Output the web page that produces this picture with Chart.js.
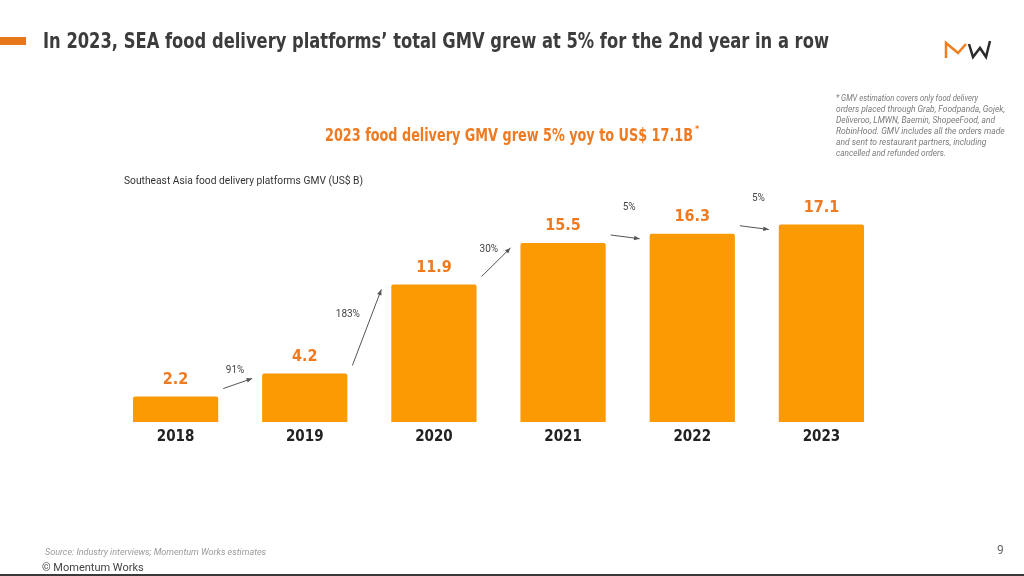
<!DOCTYPE html>
<html>
<head>
<meta charset="utf-8">
<script src="https://cdn.jsdelivr.net/npm/chart.js@4"></script>
<style>
  html, body { margin: 0; padding: 0; background: #fff; }
  #wrap { position: relative; width: 1024px; height: 576px; }
</style>
</head>
<body>
<div id="wrap"><canvas id="chart" width="1024" height="576"></canvas></div>
<script>
// data
var years = ['2018', '2019', '2020', '2021', '2022', '2023'];
var gmv = [2.2, 4.2, 11.9, 15.5, 16.3, 17.1];
var growthLabels = ['91%', '183%', '30%', '5%', '5%'];

var footnoteLines = [
  '* GMV estimation covers only food delivery',
  'orders placed through Grab, Foodpanda, Gojek,',
  'Deliveroo, LMWN, Baemin, ShopeeFood, and',
  'RobinHood. GMV includes all the orders made',
  'and sent to restaurant partners, including',
  'cancelled and refunded orders.'
];

var BAR = '#fb9a03';
var LABEL_ORANGE = '#ee7a22';
var NARROW = "'Liberation Sans Narrow', 'DejaVu Sans Condensed', Roboto, sans-serif";

/**
 * Slide decoration: title, logo, notes, footer.
 * Drawn behind the chart so bars stay on top.
 */
var slidePlugin = {
  id: 'slide',
  beforeDraw: function(chart){
    var ctx = chart.ctx;
    ctx.save();
    ctx.fillStyle = '#fff';
    ctx.fillRect(0, 0, chart.width, chart.height);

    // orange tab + title
    ctx.fillStyle = '#e8761b';
    ctx.fillRect(0, 37, 26, 8);
    ctx.fillStyle = '#3c3c3c';
    ctx.font = 'bold 22px ' + NARROW;
    ctx.textBaseline = 'alphabetic';
    ctx.textAlign = 'left';
    ctx.fillText('In 2023, SEA food delivery platforms\u2019 total GMV grew at 5% for the 2nd year in a row', 43, 48, 786);

    // MW logo
    ctx.lineWidth = 2.5;
    ctx.lineJoin = 'miter';
    ctx.strokeStyle = '#f07d1e';
    ctx.beginPath();
    ctx.moveTo(946, 58); ctx.lineTo(946, 43); ctx.lineTo(958, 53); ctx.lineTo(966, 44);
    ctx.stroke();
    ctx.strokeStyle = '#2b2b2b';
    ctx.beginPath();
    ctx.moveTo(969, 44); ctx.lineTo(973, 57); ctx.lineTo(980, 48); ctx.lineTo(986, 57); ctx.lineTo(990, 41);
    ctx.stroke();

    // subtitle
    ctx.fillStyle = LABEL_ORANGE;
    ctx.font = 'bold 18px ' + NARROW;
    ctx.textAlign = 'center';
    ctx.fillText('2023 food delivery GMV grew 5% yoy to US$ 17.1B', 509, 141, 368);
    ctx.font = 'bold 9px ' + NARROW;
    ctx.textAlign = 'left';
    ctx.fillText('*', 695, 132);

    // axis caption
    ctx.fillStyle = '#333';
    ctx.font = '10.5px Roboto, sans-serif';
    ctx.fillText('Southeast Asia food delivery platforms GMV (US$ B)', 124, 184, 239);

    // footnote
    ctx.fillStyle = '#7a7a7a';
    ctx.font = 'italic 8.5px Roboto, sans-serif';
    var fnWidths = [142, 169, 159, 169, 153, 110];
    footnoteLines.forEach(function(line, i){
      ctx.fillText(line, 836, 101 + i * 11, fnWidths[i]);
    });

    // footer
    ctx.fillStyle = '#9a9a9a';
    ctx.font = 'italic 9px Roboto, sans-serif';
    ctx.fillText('Source: Industry interviews; Momentum Works estimates', 45, 555, 234);
    ctx.fillStyle = '#444';
    ctx.font = '11px Roboto, sans-serif';
    ctx.fillText('\u00a9 Momentum Works', 42, 571);
    ctx.fillStyle = '#666';
    ctx.font = '12px Roboto, sans-serif';
    ctx.fillText('9', 997, 554);

    ctx.fillStyle = '#3a3a3a';
    ctx.fillRect(0, 574, chart.width, 2);
    ctx.restore();
  },

  afterDatasetsDraw: function(chart){
    var ctx = chart.ctx;
    var bars = chart.getDatasetMeta(0).data;
    ctx.save();

    // value labels above bars
    ctx.fillStyle = LABEL_ORANGE;
    ctx.font = 'bold 16px ' + NARROW;
    ctx.textAlign = 'center';
    ctx.textBaseline = 'middle';
    bars.forEach(function(bar, i){
      ctx.fillText(gmv[i].toFixed(1), bar.x, bar.y - 17);
    });

    // growth arrows between bars
    ctx.strokeStyle = '#555';
    ctx.fillStyle = '#555';
    ctx.lineWidth = 1;
    for (var i = 0; i < bars.length - 1; i++) {
      var a = bars[i], b = bars[i + 1];
      var x1 = a.x + a.width / 2 + 5, y1 = a.y - 8;
      var x2 = b.x - b.width / 2 - 10, y2 = b.y + 5;
      ctx.beginPath();
      ctx.moveTo(x1, y1); ctx.lineTo(x2, y2);
      ctx.stroke();
      var ang = Math.atan2(y2 - y1, x2 - x1);
      ctx.beginPath();
      ctx.moveTo(x2, y2);
      ctx.lineTo(x2 - 6 * Math.cos(ang - 0.4), y2 - 6 * Math.sin(ang - 0.4));
      ctx.lineTo(x2 - 6 * Math.cos(ang + 0.4), y2 - 6 * Math.sin(ang + 0.4));
      ctx.closePath();
      ctx.fill();

      var mx = (x1 + x2) / 2, my = (y1 + y2) / 2;
      var dy = Math.abs(y2 - y1);
      ctx.fillStyle = '#444';
      ctx.font = '10px Roboto, sans-serif';
      ctx.fillText(growthLabels[i], mx - 0.25 * dy + (dy < 6 ? 5 : 0), my - 13 - (dy < 6 ? 16 : 0));
      ctx.fillStyle = '#555';
    }
    ctx.restore();
  }
};

var ctx = document.getElementById('chart').getContext('2d');
new Chart(ctx, {
  type: 'bar',
  data: {
    labels: years,
    datasets: [{
      data: gmv,
      backgroundColor: BAR,
      borderRadius: 2,
      borderSkipped: 'start',
      barPercentage: 1,
      categoryPercentage: 0.66
    }]
  },
  options: {
    responsive: false,
    animation: false,
    layout: { padding: { left: 111, right: 138, top: 191, bottom: 124 } },
    plugins: { legend: { display: false }, tooltip: { enabled: false } },
    scales: {
      y: { display: false, min: 0, max: 20 },
      x: {
        grid: { display: false, drawTicks: false },
        border: { display: false },
        ticks: {
          padding: 6,
          color: '#222',
          font: { family: NARROW, size: 15, weight: 'bold' }
        }
      }
    }
  },
  plugins: [slidePlugin]
});
</script>
</body>
</html>
